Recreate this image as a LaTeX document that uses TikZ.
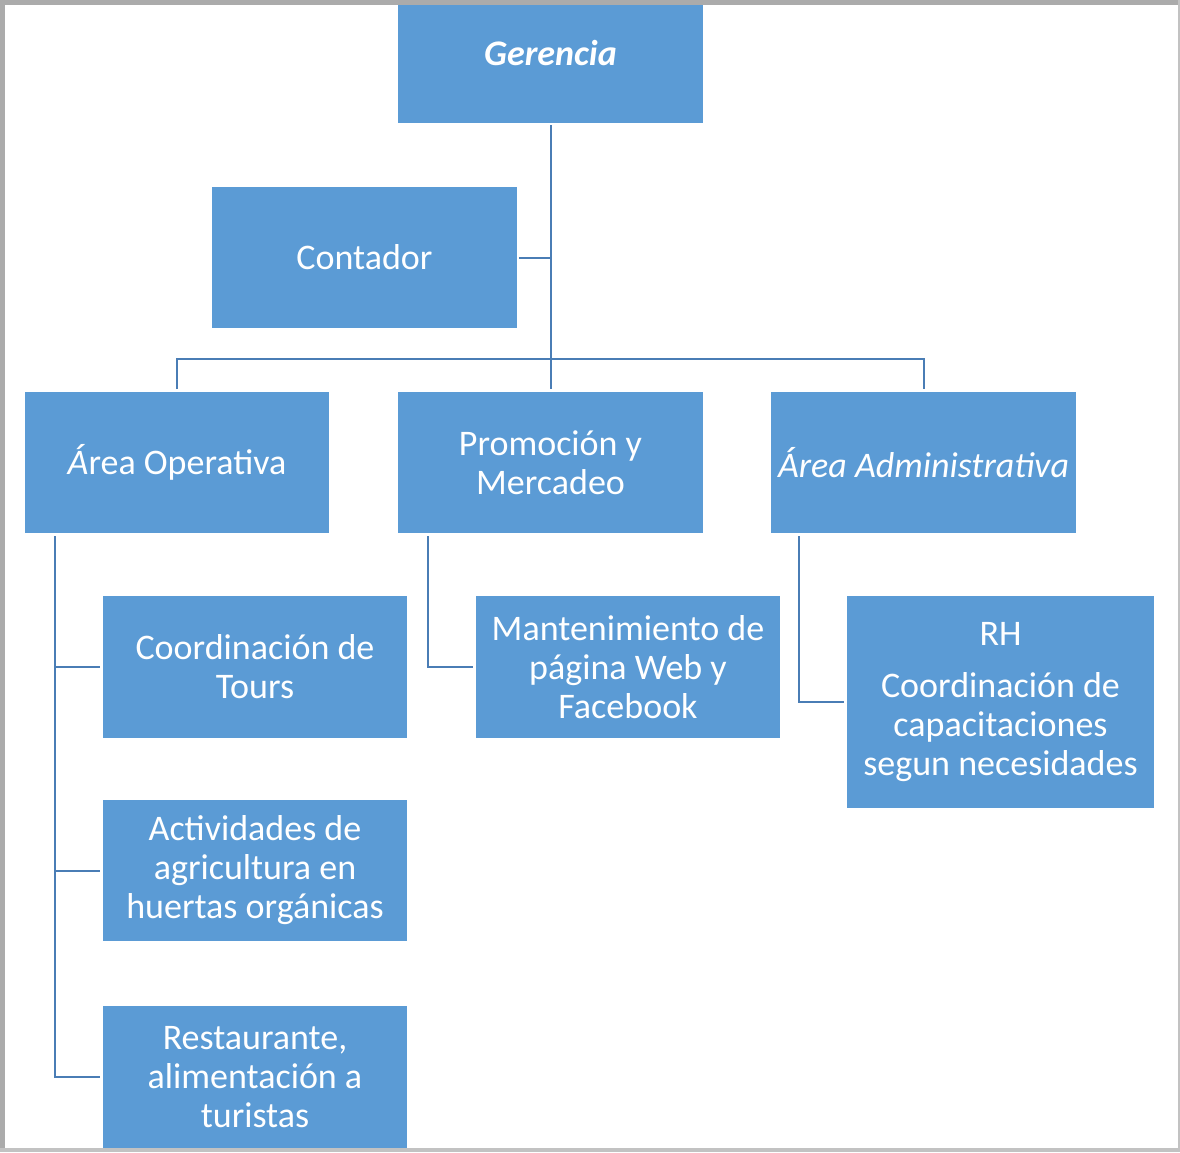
\documentclass[tikz,border=0pt]{standalone}
\usepackage{fontspec}
\setmainfont{Carlito}
\definecolor{boxblue}{HTML}{5B9BD5}
\definecolor{linkblue}{HTML}{4A7DB5}
\definecolor{edgegray}{HTML}{ABABAB}
\definecolor{edgelight}{HTML}{C2C2C2}
\tikzset{
  orgbox/.style={fill=boxblue, draw=none, text=white, anchor=north west,
    inner sep=0pt, outer sep=0pt, align=center,
    font=\fontsize{36}{39}\selectfont},
  link/.style={draw=linkblue, line width=2pt}
}
\begin{document}
\begin{tikzpicture}[x=1pt, y=-1pt]
\useasboundingbox (0,0) rectangle (1180,1152);
\fill[white] (0,0) rectangle (1180,1152);
\begin{scope}
\clip (4,4) rectangle (1178,1148);
% boxes
\node[orgbox, minimum width=305pt, minimum height=141pt] (ger) at (398,-18) {\textbf{\textit{Gerencia}}};
\node[orgbox, minimum width=305pt, minimum height=141pt] (cont) at (212,187) {Contador};
\node[orgbox, minimum width=304pt, minimum height=141pt] (op) at (25,392) {\textit{Á}rea Operativa};
\node[orgbox, minimum width=305pt, minimum height=141pt] (prom) at (398,392) {Promoción y\\Mercadeo};
\node[orgbox, minimum width=305pt, minimum height=141pt] (adm) at (771,392) {\textit{Área Administrativa}};
\node[orgbox, minimum width=304pt, minimum height=142pt] (tours) at (103,596) {Coordinación de\\Tours};
\node[orgbox, minimum width=304pt, minimum height=142pt] (mant) at (476,596) {Mantenimiento de\\página Web y\\Facebook};
\node[orgbox, minimum width=307pt, minimum height=212pt] (rh) at (847,596) {RH\\[13pt]Coordinación de\\capacitaciones\\segun necesidades};
\node[orgbox, minimum width=304pt, minimum height=141pt] (act) at (103,800) {Actividades de\\agricultura en\\huertas orgánicas};
\node[orgbox, minimum width=304pt, minimum height=142pt] (rest) at (103,1006) {Restaurante,\\alimentación a\\turistas};
% connectors
\coordinate (bus) at (550,359);
\draw[link, shorten <=2pt, shorten >=3pt] (ger.south) -- (prom.north);
\draw[link, shorten <=2pt] (cont.east) -- (ger.south |- cont.east);
\draw[link] ([yshift=3pt]op.north) |- (bus) -| ([yshift=3pt]adm.north);
\coordinate (opt) at ([xshift=30pt, yshift=-3pt]op.south west);
\draw[link, shorten >=3pt] (opt) |- (tours.west);
\draw[link, shorten >=3pt] (opt) |- (act.west);
\draw[link, shorten >=3pt] (opt) |- (rest.west);
\coordinate (promt) at ([xshift=30pt, yshift=-3pt]prom.south west);
\draw[link, shorten >=3pt] (promt) |- (mant.west);
\coordinate (admt) at ([xshift=28pt, yshift=-3pt]adm.south west);
\draw[link, shorten >=3pt] (admt) |- (rh.west);
\end{scope}
% page edge shadow
\fill[edgegray] (0,0) rectangle (1180,4.5);
\fill[edgegray] (0,0) rectangle (4.5,1152);
\fill[edgelight] (0,1148) rectangle (1180,1152);
\fill[edgelight] (1178,0) rectangle (1180,1152);
\end{tikzpicture}
\end{document}
